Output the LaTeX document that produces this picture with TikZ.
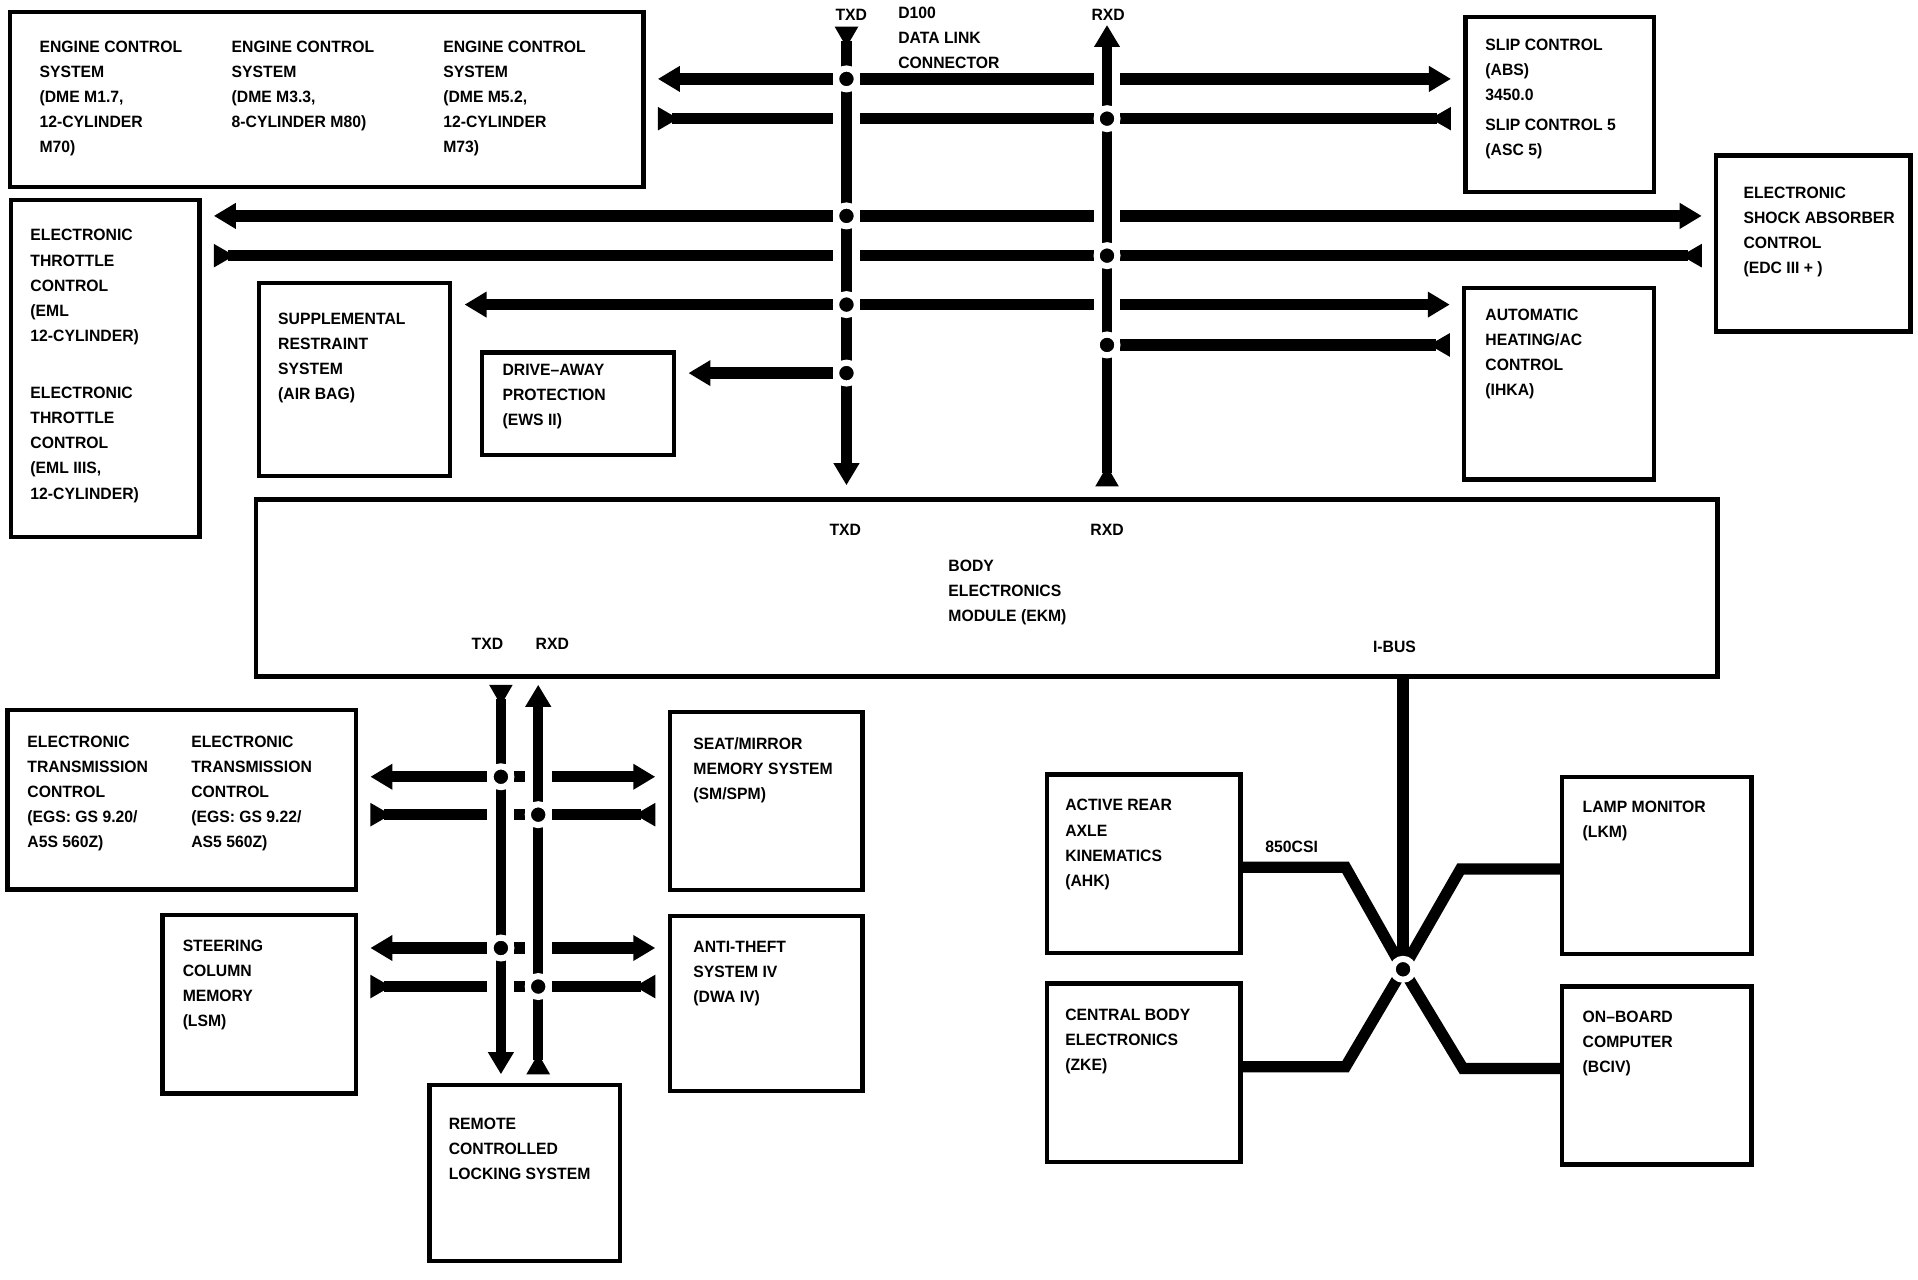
\documentclass[tikz,border=0pt]{standalone}
\usepackage{fontspec}
\setmainfont[FakeStretch=0.96]{Liberation Sans}
\usetikzlibrary{arrows.meta,fit}
\begin{document}
\begin{tikzpicture}[x=0.5pt,y=-0.5pt,
  box/.style={draw, line width=1.8pt, inner sep=0pt},
  txt/.style={anchor=north west, inner sep=0pt, align=left,
    font=\fontsize{6.7}{10.25}\selectfont\bfseries},
  lbl/.style={anchor=center, inner sep=0pt, font=\fontsize{6.7}{10.25}\selectfont\bfseries},
  row/.style={line width=4.6pt, shorten <=5pt, shorten >=5pt},
  bus/.style={line width=4.3pt},
  halo/.style={white, line width=11pt},
  ibus/.style={line width=4.6pt, line join=miter},
  dot/.style={circle, fill=black, draw=white, line width=2.5pt, minimum size=8.5pt, inner sep=0pt},
  Tout/.tip={Triangle[length=9pt,width=10pt]},
  Tin/.tip={Triangle[length=8.5pt,width=9pt,reversed]},
]
\useasboundingbox (0,0) rectangle (1568,1046);
\fill[white] (0,0) rectangle (1568,1046);

% ---------- boxes ----------
\node[box, fit={(8,10) (526,153)}] (ecs) {};
\node[box, fit={(1198,14) (1352,157)}] (slip) {};
\node[box, fit={(1403,127) (1562,271)}] (edc) {};
\node[box, fit={(9,163.5) (163,439)}] (etc) {};
\node[box, fit={(211.5,231.5) (368,389)}] (srs) {};
\node[box, fit={(394,288) (551,372)}] (drv) {};
\node[box, fit={(1197,235.5) (1352,392)}] (ihka) {};
\node[box, fit={(209.5,408.5) (1404,553)}] (ekm) {};
\node[box, fit={(6,580.5) (291,727)}] (egs) {};
\node[box, fit={(547.5,582) (705,727.5)}] (seat) {};
\node[box, fit={(133,748) (291,894)}] (lsm) {};
\node[box, fit={(547.5,749) (705,892)}] (dwa) {};
\node[box, fit={(351,887) (507,1031)}] (rem) {};
\node[box, fit={(856,633) (1014,779)}] (ahk) {};
\node[box, fit={(856,804) (1014,950)}] (zke) {};
\node[box, fit={(1277,635) (1432,780)}] (lkm) {};
\node[box, fit={(1277,806.5) (1432,952)}] (bciv) {};

% ---------- texts ----------
\node[txt] (ecs1) at (32,33) {ENGINE CONTROL\\SYSTEM\\(DME M1.7,\\12-CYLINDER\\M70)};
\node[txt] (ecs2) at (189,33) {ENGINE CONTROL\\SYSTEM\\(DME M3.3,\\8-CYLINDER M80)};
\node[txt] (ecs3) at (362,33) {ENGINE CONTROL\\SYSTEM\\(DME M5.2,\\12-CYLINDER\\M73)};
\node[txt] (d100) at (734,5.6) {D100\\DATA LINK\\CONNECTOR};
\node[lbl] (ltxtop) at (696,12) {TXD};
\node[lbl] (lrxtop) at (906,12) {RXD};
\node[txt] (slipt) at (1214,31.7) {SLIP CONTROL\\(ABS)\\3450.0\\[2pt]SLIP CONTROL 5\\(ASC 5)};
\node[txt] (edct) at (1425,152.2) {ELECTRONIC\\SHOCK ABSORBER\\CONTROL\\(EDC III + )};
\node[txt] (etct) at (24.5,187.2) {ELECTRONIC\\THROTTLE\\CONTROL\\(EML\\12-CYLINDER)\\[13.25pt]ELECTRONIC\\THROTTLE\\CONTROL\\(EML IIIS,\\12-CYLINDER)};
\node[txt] (srst) at (227,255.7) {SUPPLEMENTAL\\RESTRAINT\\SYSTEM\\(AIR BAG)};
\node[txt] (drvt) at (410.5,297.2) {DRIVE{\textendash}AWAY\\PROTECTION\\(EWS II)};
\node[txt] (ihkat) at (1214,252.2) {AUTOMATIC\\HEATING/AC\\CONTROL\\(IHKA)};
\node[lbl] (lekmtx) at (691,433) {TXD};
\node[lbl] (lekmrx) at (905,433) {RXD};
\node[txt] (ekmt) at (775,457.2) {BODY\\ELECTRONICS\\MODULE (EKM)};
\node[lbl] (ltx2) at (398.5,526) {TXD};
\node[lbl] (lrx2) at (451.5,526) {RXD};
\node[lbl] (libus) at (1140,528.5) {I-BUS};
\node[txt] (egs1) at (22,601.2) {ELECTRONIC\\TRANSMISSION\\CONTROL\\(EGS: GS 9.20/\\A5S 560Z)};
\node[txt] (egs2) at (156,601.2) {ELECTRONIC\\TRANSMISSION\\CONTROL\\(EGS: GS 9.22/\\AS5 560Z)};
\node[txt] (seatt) at (566.5,602.2) {SEAT/MIRROR\\MEMORY SYSTEM\\(SM/SPM)};
\node[txt] (lsmt) at (149,768.2) {STEERING\\COLUMN\\MEMORY\\(LSM)};
\node[txt] (dwat) at (566.5,769.2) {ANTI-THEFT\\SYSTEM IV\\(DWA IV)};
\node[txt] (remt) at (366.5,913.7) {REMOTE\\CONTROLLED\\LOCKING SYSTEM};
\node[txt] (ahkt) at (870.5,653.2) {ACTIVE REAR\\AXLE\\KINEMATICS\\(AHK)};
\node[txt] (zket) at (870.5,824.7) {CENTRAL BODY\\ELECTRONICS\\(ZKE)};
\node[txt] (lkmt) at (1293.5,654.7) {LAMP MONITOR\\(LKM)};
\node[txt] (bcivt) at (1293.5,826.2) {ON{\textendash}BOARD\\COMPUTER\\(BCIV)};
\node[lbl] (lcsi) at (1056,692) {850CSI};

% ---------- junction coordinates ----------
\coordinate (t1) at (692,64.5);
\coordinate (x2) at (905,97);
\coordinate (t3) at (692,176.5);
\coordinate (x4) at (905,209);
\coordinate (t5) at (692,249);
\coordinate (x6) at (905,282);
\coordinate (t7) at (692,305);
\coordinate (tA) at (409.5,635);
\coordinate (xB) at (440,666);
\coordinate (tC) at (409.5,775);
\coordinate (xD) at (440,806.5);
\coordinate (txtop) at (692,21.8);
\coordinate (rxtop) at (905,20.4);
\coordinate (tx2) at (409.5,700);
\coordinate (rx2) at (440,700);
\coordinate (ibd) at (1147,792.4);
\coordinate (ul) at (1100,709);
\coordinate (ur) at (1194,710.5);
\coordinate (ll) at (1100,872);
\coordinate (lr) at (1196,873.5);

% ---------- horizontal links ----------
\draw[row, Tout-Tout] (ecs.east |- t1) -- (slip.west |- t1);
\draw[row, Tin-Tin] (ecs.east |- x2) -- (slip.west |- x2);
\draw[row, Tout-Tout] (etc.east |- t3) -- (edc.west |- t3);
\draw[row, Tin-Tin] (etc.east |- x4) -- (edc.west |- x4);
\draw[row, Tout-Tout] (srs.east |- t5) -- (ihka.west |- t5);
\draw[row, -Tin, shorten <=0pt] (x6) -- (ihka.west |- x6);
\draw[row, -Tout, shorten <=0pt] (t7) -- (drv.east |- t7);
\draw[row, Tout-Tout] (egs.east |- tA) -- (seat.west |- tA);
\draw[row, Tin-Tin] (egs.east |- xB) -- (seat.west |- xB);
\draw[row, Tout-Tout] (lsm.east |- tC) -- (dwa.west |- tC);
\draw[row, Tin-Tin] (lsm.east |- xD) -- (dwa.west |- xD);

% ---------- vertical buses ----------
\draw[halo] (692,45) -- (692,325);
\draw[halo] (905,45) -- (905,295);
\draw[halo] (409.5,620) -- (409.5,820);
\draw[halo] (440,620) -- (440,820);
\draw[bus, Tin-Tout, shorten >=5pt] (txtop) -- (ekm.north -| txtop);
\draw[bus, Tin-Tout, shorten <=4.5pt] (ekm.north -| rxtop) -- (rxtop);
\draw[bus, Tin-Tout, shorten <=2.5pt, shorten >=3.5pt] (ekm.south -| tx2) -- (rem.north -| tx2);
\draw[bus, Tin-Tout, shorten <=3.5pt, shorten >=2.5pt] (rem.north -| rx2) -- (ekm.south -| rx2);

% ---------- I-BUS ----------
\draw[ibus] (ekm.south -| ibd) -- (ibd);
\draw[ibus] (ibd) -- (ul) -- (ahk.east |- ul);
\draw[ibus] (ibd) -- (ll) -- (zke.east |- ll);
\draw[ibus] (ibd) -- (ur) -- (lkm.west |- ur);
\draw[ibus] (ibd) -- (lr) -- (bciv.west |- lr);

% ---------- junction dots ----------
\foreach \c in {t1,x2,t3,x4,t5,x6,t7,tA,xB,tC,xD,ibd}
  \node[dot] (dot-\c) at (\c) {};
\end{tikzpicture}
\end{document}
